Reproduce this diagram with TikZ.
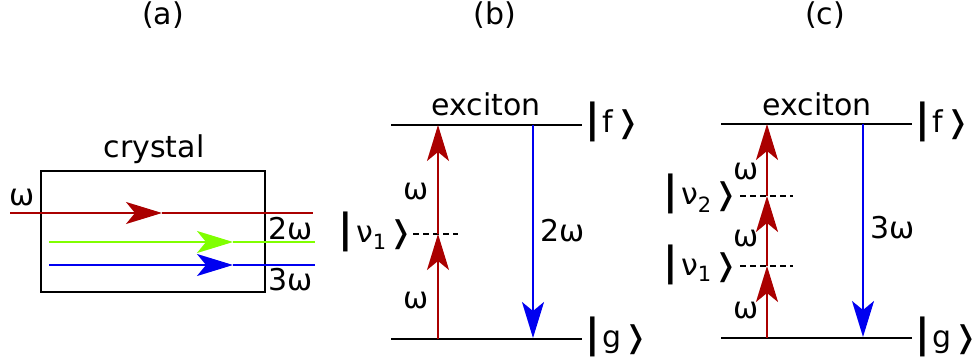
\documentclass[tikz,border=0pt]{standalone}
\usepackage{fontspec}
\setmainfont{DejaVu Sans}
\usetikzlibrary{arrows.meta}
\definecolor{dred}{RGB}{170,0,0}
\definecolor{lgreen}{RGB}{128,255,0}
\definecolor{dblue}{RGB}{0,0,240}
\newcommand{\kbar}{{\fontsize{40}{40}\selectfont\bfseries|}}
\newcommand{\myket}[1]{\kbar\hspace{3pt}#1\hspace{2pt}❭}
\begin{document}
\begin{tikzpicture}[x=1pt,y=-1pt,
  lbl/.style={inner sep=0pt,font=\fontsize{30}{36}\selectfont},
  level/.style={line width=2pt,black},
  beam/.style={line width=2pt},
  head/.style={-{Stealth[length=36pt,width=22pt,inset=9pt]}},
  virt/.style={line width=1.5pt,dash pattern=on 6pt off 4pt}]
\useasboundingbox (0,0) rectangle (979,363);
% titles
\node[lbl,anchor=base] (ta) at (163,25) {(a)};
\node[lbl,anchor=base] (tb) at (495,25) {(b)};
\node[lbl,anchor=base] (tc) at (825,25) {(c)};
% (a) crystal
\node[draw,line width=2pt,minimum width=224pt,minimum height=121pt,inner sep=0pt] (box) at (153,231.5) {};
\node[lbl,anchor=base] (cry) at (154,158) {crystal};
\coordinate (r0) at (10,213); \coordinate (rm) at (162,213); \coordinate (r1) at (313,213);
\coordinate (g0) at (49,242); \coordinate (gm) at (233,242); \coordinate (g1) at (315,242);
\coordinate (u0) at (49,265); \coordinate (um) at (233,265); \coordinate (u1) at (315,265);
\draw[beam,dred,head] (r0) -- (rm); \draw[beam,dred] (rm) -- (r1);
\draw[beam,lgreen,head] (g0) -- (gm); \draw[beam,lgreen] (gm) -- (g1);
\draw[beam,dblue,head] (u0) -- (um); \draw[beam,dblue] (um) -- (u1);
\node[lbl,anchor=base] (win) at (22,206) {ω};
\node[lbl,anchor=base] (w2) at (291,240) {2ω};
\node[lbl,anchor=base] (w3) at (291,290) {3ω};
% (b)
\coordinate (bfL) at (391,125); \coordinate (bfR) at (582,125);
\coordinate (bgL) at (391,339); \coordinate (bgR) at (582,339);
\draw[level] (bfL) -- (bfR); \draw[level] (bgL) -- (bgR);
\coordinate (bv1L) at (413,234); \coordinate (bv1R) at (458,234);
\draw[virt] (bv1L) -- (bv1R);
\coordinate (br0) at (438,339); \coordinate (br1) at (438,234); \coordinate (br2) at (438,125);
\draw[beam,dred,head] (br0) -- (br1); \draw[beam,dred,head] (br1) -- (br2);
\coordinate (bb0) at (533,125); \coordinate (bb1) at (533,338);
\draw[beam,dblue,head] (bb0) -- (bb1);
\node[lbl,anchor=base] (bex) at (486,116) {exciton};
\node[lbl,anchor=base west] (bkf) at (585,133) {\myket{f}};
\node[lbl,anchor=base west] (bkg) at (585,347) {\myket{g}};
\node[lbl,anchor=base east] (bkv1) at (414,243) {\myket{ν\textsubscript{1}}};
\node[lbl,anchor=base] (bw1) at (416,200) {ω};
\node[lbl,anchor=base] (bw2) at (416,308) {ω};
\node[lbl,anchor=base] (b2w) at (563,242) {2ω};
% (c)
\coordinate (cfL) at (721,124); \coordinate (cfR) at (912,124);
\coordinate (cgL) at (721,338); \coordinate (cgR) at (912,338);
\draw[level] (cfL) -- (cfR); \draw[level] (cgL) -- (cgR);
\coordinate (cv2L) at (740,196); \coordinate (cv2R) at (793,196);
\coordinate (cv1L) at (740,266); \coordinate (cv1R) at (793,266);
\draw[virt] (cv2L) -- (cv2R); \draw[virt] (cv1L) -- (cv1R);
\coordinate (cr0) at (767,338); \coordinate (cr1) at (767,266);
\coordinate (cr2) at (767,196); \coordinate (cr3) at (767,124);
\draw[beam,dred,head] (cr0) -- (cr1); \draw[beam,dred,head] (cr1) -- (cr2);
\draw[beam,dred,head] (cr2) -- (cr3);
\coordinate (cb0) at (863,124); \coordinate (cb1) at (863,337);
\draw[beam,dblue,head] (cb0) -- (cb1);
\node[lbl,anchor=base] (cex) at (817,116) {exciton};
\node[lbl,anchor=base west] (ckf) at (915,133) {\myket{f}};
\node[lbl,anchor=base west] (ckg) at (915,347) {\myket{g}};
\node[lbl,anchor=base east] (ckv2) at (739,205) {\myket{ν\textsubscript{2}}};
\node[lbl,anchor=base east] (ckv1) at (739,275) {\myket{ν\textsubscript{1}}};
\node[lbl,anchor=base] (cw1) at (746,180) {ω};
\node[lbl,anchor=base] (cw2) at (746,247) {ω};
\node[lbl,anchor=base] (cw3) at (746,318) {ω};
\node[lbl,anchor=base] (c3w) at (893,239) {3ω};
\end{tikzpicture}
\end{document}
